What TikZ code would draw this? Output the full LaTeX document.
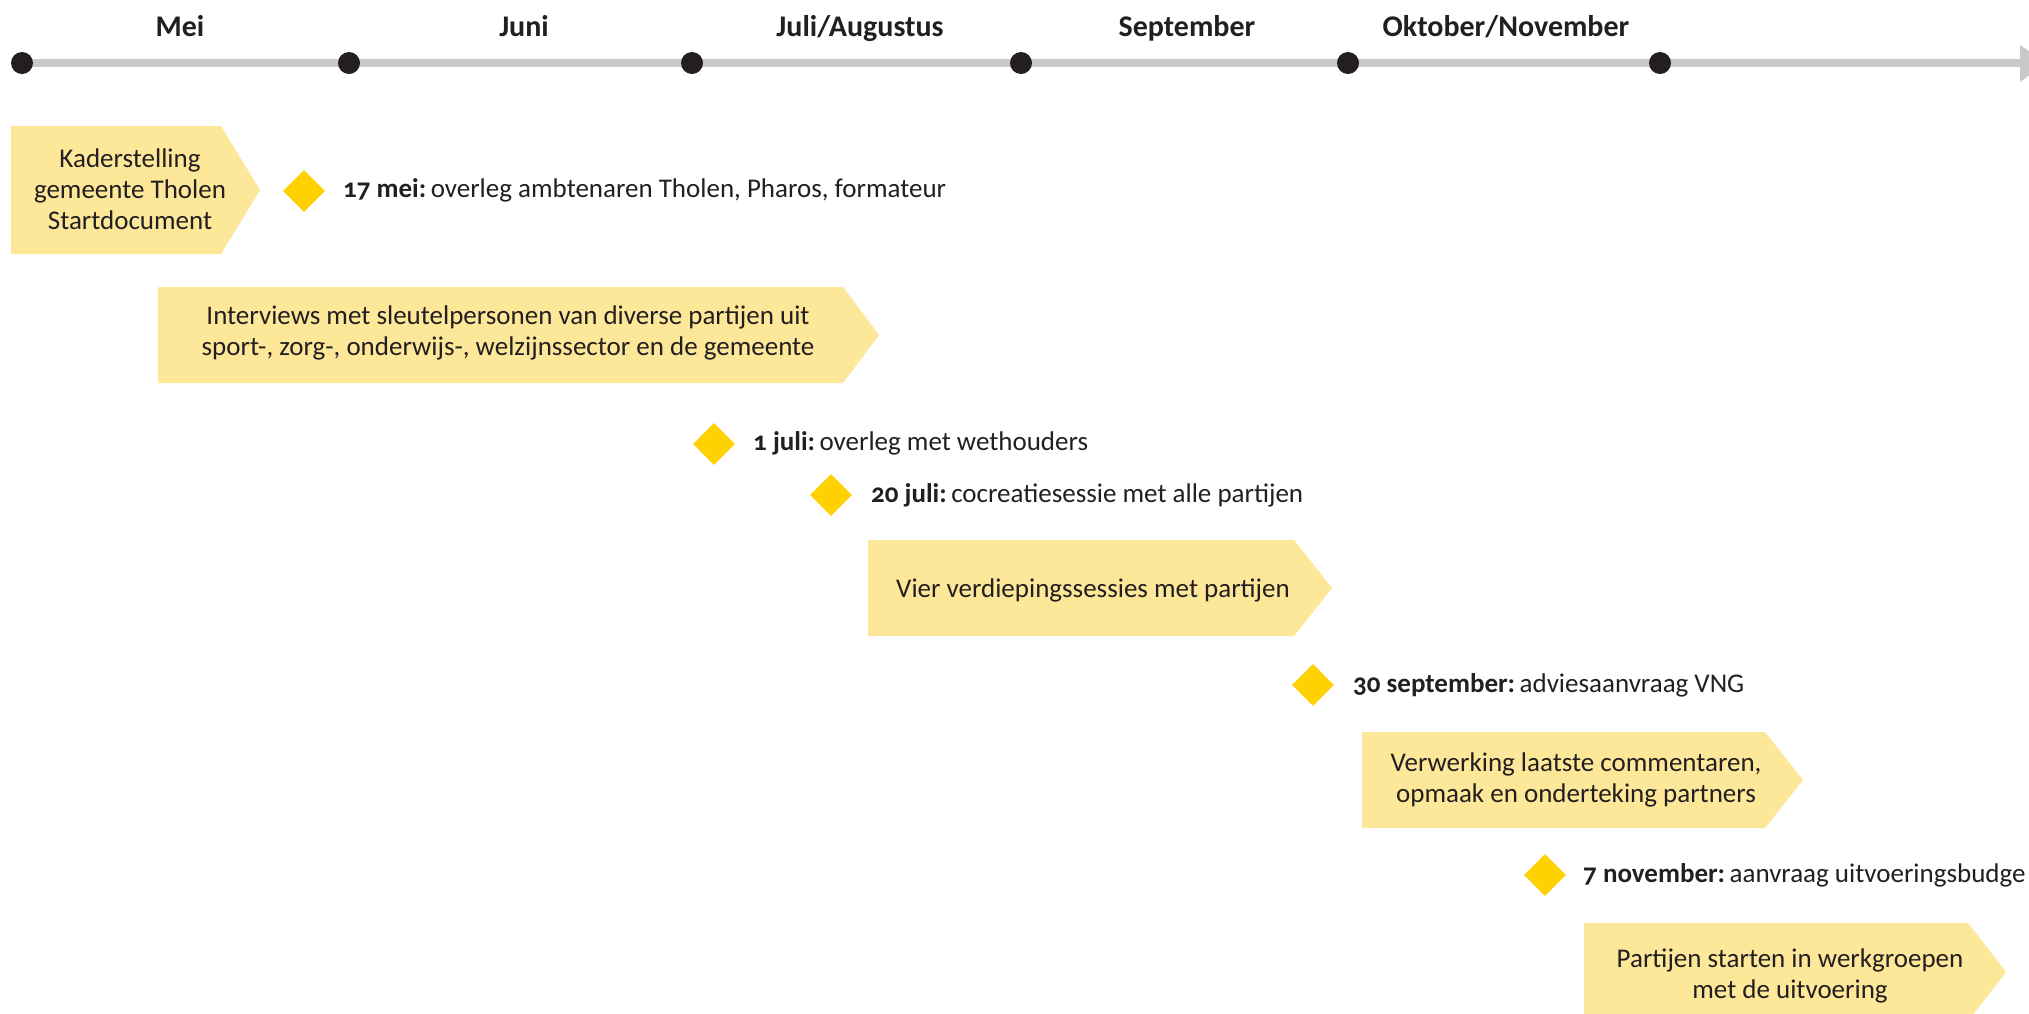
\documentclass[tikz,border=0pt]{standalone}
\usepackage{fontspec}
\setmainfont{Carlito}[Numbers=OldStyle]
\usetikzlibrary{shapes.geometric,backgrounds}
\definecolor{boxfill}{RGB}{253,231,153}
\definecolor{gold}{RGB}{255,209,0}
\definecolor{axisgray}{RGB}{200,201,203}
\definecolor{ink}{RGB}{35,31,32}
\begin{document}
\begin{tikzpicture}[x=1pt,y=-1pt,
  txt/.style={font=\fontsize{27}{31}\selectfont, text=ink, inner sep=0pt},
  month/.style={txt, font=\fontsize{30}{34}\selectfont\bfseries, anchor=base},
  gem/.style={diamond, fill=gold, minimum width=42pt, minimum height=42pt, inner sep=0pt},
  dot/.style={circle, fill=ink, minimum size=22pt, inner sep=0pt},
  chev/.style={fill=boxfill},
  boxtxt/.style={txt, align=center, anchor=base},
  evtxt/.style={txt, anchor=base west},
  axisline/.style={draw=axisgray, line width=8pt}
]
\useasboundingbox (0,0) rectangle (2029,1013);
\clip (0,0) rectangle (2029,1013);
% timeline dots
\node[dot] (d1) at (22,63) {};
\node[dot] (d2) at (349,63) {};
\node[dot] (d3) at (692,63) {};
\node[dot] (d4) at (1021,63) {};
\node[dot] (d5) at (1348,63) {};
\node[dot] (d6) at (1660,63) {};
\coordinate (axend) at (2020,63);
\begin{scope}[on background layer]
  \fill[white] (0,0) rectangle (2029,1013);
  \draw[axisline] (d1.center) -- (axend);
  \fill[axisgray] (2020,45) -- (2046,63) -- (2020,82) -- cycle;
\end{scope}
% months
\node[month] (m1) at (180,36) {Mei};
\node[month] (m2) at (524,36) {Juni};
\node[month] (m3) at (860,36) {Juli/Augustus};
\node[month] (m4) at (1187,36) {September};
\node[month] (m5) at (1506,36) {Oktober/November};
% chevron boxes (base anchor = baseline of last line)
\fill[chev] (11,126) -- (221,126) -- (260,190) -- (221,254) -- (11,254) -- cycle;
\node[boxtxt] (b1) at (130,229) {Kaderstelling\\gemeente Tholen\\Startdocument};
\fill[chev] (158,287) -- (843,287) -- (879,335) -- (843,383) -- (158,383) -- cycle;
\node[boxtxt] (b2) at (508,355) {Interviews met sleutelpersonen van diverse partijen uit\\sport-, zorg-, onderwijs-, welzijnssector en de gemeente};
\fill[chev] (868,540) -- (1294,540) -- (1332,588) -- (1294,636) -- (868,636) -- cycle;
\node[boxtxt] (b3) at (1093,597) {Vier verdiepingssessies met partijen};
\fill[chev] (1362,732) -- (1765,732) -- (1803,780) -- (1765,828) -- (1362,828) -- cycle;
\node[boxtxt] (b4) at (1576,802) {Verwerking laatste commentaren,\\opmaak en onderteking partners};
\fill[chev] (1584,923) -- (1968,923) -- (2006,972) -- (1968,1021) -- (1584,1021) -- cycle;
\node[boxtxt] (b5) at (1790,998) {Partijen starten in werkgroepen\\met de uitvoering};
% milestones
\node[gem] (g1) at (304,191) {};
\node[evtxt] (e1) at (343,197) {\textbf{17 mei:}\,overleg ambtenaren Tholen, Pharos, formateur};
\node[gem] (g2) at (714,444) {};
\node[evtxt] (e2) at (753,450) {\textbf{1 juli:}\,overleg met wethouders};
\node[gem] (g3) at (831,495) {};
\node[evtxt] (e3) at (871,502) {\textbf{20 juli:}\,cocreatiesessie met alle partijen};
\node[gem] (g4) at (1313,685) {};
\node[evtxt] (e4) at (1353,692) {\textbf{30 september:}\,adviesaanvraag VNG};
\node[gem] (g5) at (1545,875) {};
\node[evtxt] (e5) at (1583,882) {\textbf{7 november:}\,aanvraag uitvoeringsbudge};
\end{tikzpicture}
\end{document}
